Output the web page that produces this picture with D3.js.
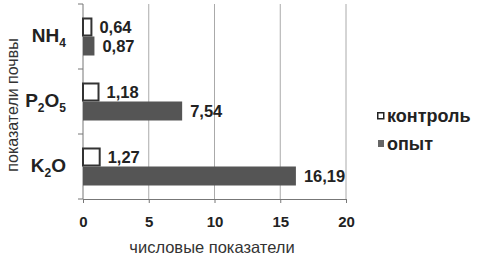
<!DOCTYPE html>
<html>
<head>
<meta charset="utf-8">
<script src="https://cdn.jsdelivr.net/npm/d3@7"></script>
<style>
  body { margin: 0; background: #fff; }
  text { font-family: "Liberation Sans", Arial, sans-serif; }
</style>
</head>
<body>
<div id="box-bar"></div>
<script>
var categories = ["NH4", "P2O5", "K2O"];
var seriesNames = ["контроль", "опыт"];
var controlValues = [0.64, 1.18, 1.27];
var opytValues = [0.87, 7.54, 16.19];
var xTicks = [0, 5, 10, 15, 20];

var width = 478, height = 263;
var svg = d3.select("#box-bar").append("svg").attr("width", width).attr("height", height);

var x = d3.scaleLinear().domain([0, 20]).range([83, 346]);
var y = d3.scaleBand().domain(categories).range([4, 199]);
var ySub = d3.scaleBand().domain(seriesNames).range([0, y.bandwidth()]).paddingInner(0).paddingOuter(0.71);

var fill = d3.scaleOrdinal(seriesNames, ["#fff", "#555"]);
var fmt = function(v){ return d3.format(".2f")(v).replace(".", ","); };

var rows = categories.map(function(c, i){
  return { cat: c, values: [
    { name: seriesNames[0], value: controlValues[i] },
    { name: seriesNames[1], value: opytValues[i] }
  ]};
});

// grid
svg.append("g").selectAll("line")
  .data(xTicks.slice(1))
  .enter().append("line")
  .attr("x1", function(d){ return x(d); })
  .attr("x2", function(d){ return x(d); })
  .attr("y1", 4).attr("y2", 199)
  .attr("stroke", "#aaa").attr("stroke-width", 1);

// x axis
var xAxis = svg.append("g")
  .attr("transform", "translate(0,199)")
  .call(d3.axisBottom(x).tickValues(xTicks).tickSize(4).tickPadding(13));
xAxis.select(".domain").attr("stroke", "#777");
xAxis.selectAll(".tick line").attr("stroke", "#777");
xAxis.selectAll("text")
  .attr("font-size", 15).attr("font-weight", "bold").attr("fill", "#222");

// y axis (lines only)
var yAxis = svg.append("g").attr("transform", "translate(83,0)");
yAxis.append("line").attr("y1", 4).attr("y2", 199).attr("stroke", "#777");
yAxis.selectAll(".yt")
  .data([4].concat(categories.map(function(c){ return y(c) + y.bandwidth(); })))
  .enter().append("line")
  .attr("x1", -5).attr("x2", 0)
  .attr("y1", function(d){ return d; }).attr("y2", function(d){ return d; })
  .attr("stroke", "#777");

// bars
var groups = svg.append("g").selectAll(".grp")
  .data(rows).enter().append("g")
  .attr("transform", function(d){ return "translate(0," + y(d.cat) + ")"; });

groups.selectAll("rect")
  .data(function(d){ return d.values; })
  .enter().append("rect")
  .attr("x", x(0))
  .attr("y", function(d){ return ySub(d.name) + (d.name === seriesNames[0] ? 1 : 0); })
  .attr("width", function(d){ return x(d.value) - x(0); })
  .attr("height", function(d){ return ySub.bandwidth() - (d.name === seriesNames[0] ? 2 : 0); })
  .attr("fill", function(d){ return fill(d.name); })
  .attr("stroke", function(d){ return d.name === seriesNames[0] ? "#333" : "none"; })
  .attr("stroke-width", 2);

groups.selectAll(".val")
  .data(function(d){ return d.values; })
  .enter().append("text")
  .attr("class", "val")
  .attr("x", function(d){ return x(d.value) + 8; })
  .attr("y", function(d){ return ySub(d.name) + ySub.bandwidth() / 2; })
  .attr("dy", "0.36em")
  .attr("font-size", 16.5).attr("font-weight", "bold").attr("fill", "#222")
  .text(function(d){ return fmt(d.value); });

// category labels with subscripts
var catLabels = svg.append("g").selectAll(".cat")
  .data(categories).enter().append("text")
  .attr("class", "cat")
  .attr("x", 66)
  .attr("y", function(d){ return y(d) + y.bandwidth() / 2 + 5; })
  .attr("text-anchor", "end")
  .attr("font-size", 19).attr("font-weight", "bold").attr("fill", "#222");

catLabels.each(function(d){
  var t = d3.select(this);
  var parts = d.match(/[A-Za-z]+|\d+/g);
  var shifted = false;
  parts.forEach(function(p){
    var isSub = /\d/.test(p);
    var ts = t.append("tspan").text(p);
    if (isSub) {
      ts.attr("font-size", 12).attr("dy", 5);
      shifted = true;
    } else if (shifted) {
      ts.attr("dy", -5);
      shifted = false;
    }
  });
});

// axis titles
svg.append("text")
  .attr("transform", "translate(18,105) rotate(-90)")
  .attr("text-anchor", "middle")
  .attr("font-size", 16).attr("fill", "#333")
  .text("показатели почвы");

svg.append("text")
  .attr("x", 212).attr("y", 253)
  .attr("text-anchor", "middle")
  .attr("font-size", 16.5).attr("fill", "#333")
  .text("числовые показатели");

// legend
var legend = svg.append("g").selectAll(".leg")
  .data(seriesNames).enter().append("g")
  .attr("transform", function(d, i){ return "translate(377," + (112 + i * 28) + ")"; });

legend.append("rect")
  .attr("x", function(d, i){ return i === 0 ? 0.75 : 1; })
  .attr("y", function(d, i){ return i === 0 ? 0.75 : 0; })
  .attr("width", 6)
  .attr("height", function(d, i){ return i === 0 ? 6 : 7; })
  .attr("fill", function(d){ return d === seriesNames[0] ? "#fff" : "#666"; })
  .attr("stroke", function(d){ return d === seriesNames[0] ? "#222" : "none"; })
  .attr("stroke-width", 1.5);

legend.append("text")
  .attr("x", 10).attr("y", 4)
  .attr("dy", "0.36em")
  .attr("font-size", 18).attr("font-weight", "bold").attr("fill", "#222")
  .text(function(d){ return d; });
</script>
</body>
</html>
